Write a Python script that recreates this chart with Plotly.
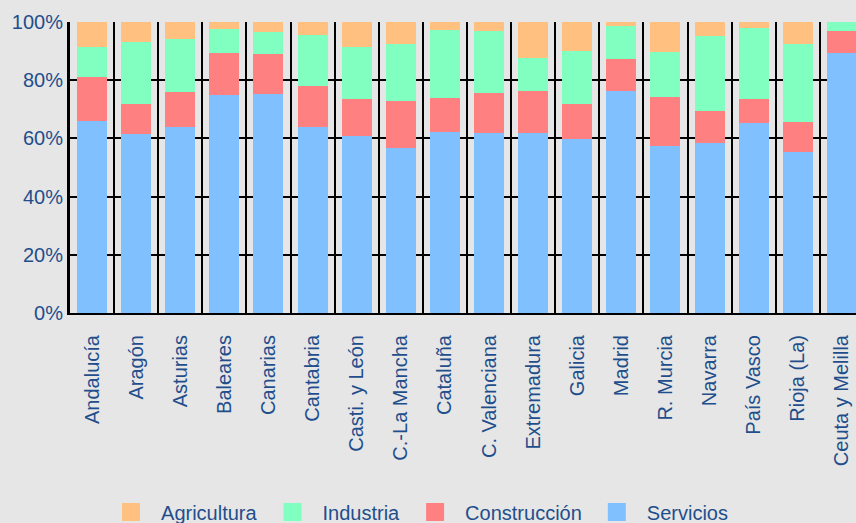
import plotly.graph_objects as go

regiones = ["Andalucía", "Aragón", "Asturias", "Baleares", "Canarias", "Cantabria",
            "Casti. y León", "C.-La Mancha", "Cataluña", "C. Valenciana", "Extremadura",
            "Galicia", "Madrid", "R. Murcia", "Navarra", "País Vasco", "Rioja (La)",
            "Ceuta y Melilla"]

servicios = [65.9, 61.5, 63.9, 75.0, 75.3, 63.9, 60.9, 56.8, 62.3, 61.8, 61.8,
             59.8, 76.2, 57.5, 58.4, 65.3, 55.4, 89.3]
construccion = [15.1, 10.3, 12.0, 14.3, 13.7, 14.1, 12.6, 16.0, 11.6, 13.7, 14.4,
                12.0, 11.0, 16.7, 11.0, 8.2, 10.3, 7.5]
industria = [10.3, 21.4, 18.2, 8.2, 7.6, 17.4, 17.8, 19.7, 23.4, 21.3, 11.5,
             18.1, 11.5, 15.5, 25.8, 24.4, 26.9, 3.2]
agricultura = [8.7, 6.8, 5.9, 2.5, 3.4, 4.6, 8.7, 7.5, 2.7, 3.2, 12.3,
               10.1, 1.3, 10.3, 4.8, 2.1, 7.4, 0.0]

colores = {"Servicios": "#80C0FF", "Construcción": "#FF8080",
           "Industria": "#80FFC0", "Agricultura": "#FFC080"}

azul = "#1F4E8C"
fuente = "Liberation Sans, Arial, sans-serif"

fig = go.Figure()
# barras apiladas (de abajo arriba)
for nombre, vals in [("Servicios", servicios), ("Construcción", construccion),
                     ("Industria", industria), ("Agricultura", agricultura)]:
    fig.add_trace(go.Bar(x=regiones, y=vals, name=nombre, marker_color=colores[nombre],
                         marker_line_width=0, showlegend=False))

# leyenda con cuadrados grandes
for nombre in ["Agricultura", "Industria", "Construcción", "Servicios"]:
    fig.add_trace(go.Scatter(x=[None], y=[None], mode="markers", name=nombre,
                             marker=dict(symbol="square", size=16, color=colores[nombre],
                                         line=dict(width=2, color=colores[nombre]))))

fig.update_layout(
    width=856, height=523,
    barmode="stack", bargap=0.32,
    paper_bgcolor="#E6E6E6", plot_bgcolor="#E6E6E6",
    margin=dict(l=70, r=0, t=22, b=210, autoexpand=False),
    font=dict(family=fuente, size=20, color=azul),
    showlegend=True,
    legend=dict(orientation="h", traceorder="normal", x=0.0395, xref="paper",
                y=0.021, yref="container", xanchor="left", yanchor="middle",
                font=dict(size=20, color=azul), itemwidth=50,
                bgcolor="rgba(0,0,0,0)"),
)
fig.update_xaxes(type="category", tickson="boundaries", showgrid=True,
                 gridcolor="black", gridwidth=2, tickangle=-90,
                 showline=True, linecolor="black", linewidth=2, automargin=False,
                 ticks="", ticklabelstandoff=12, range=[-0.5, 17.32])
fig.update_yaxes(range=[0, 100], tick0=0, dtick=20, ticksuffix="%",
                 showgrid=True, gridcolor="black", gridwidth=2,
                 showline=True, linecolor="black", linewidth=3,
                 zeroline=False, ticks="", automargin=False)

fig.write_html("out.html", config={"displayModeBar": False},
               post_script="document.body.style.margin='0px';document.body.style.overflow='hidden';")
